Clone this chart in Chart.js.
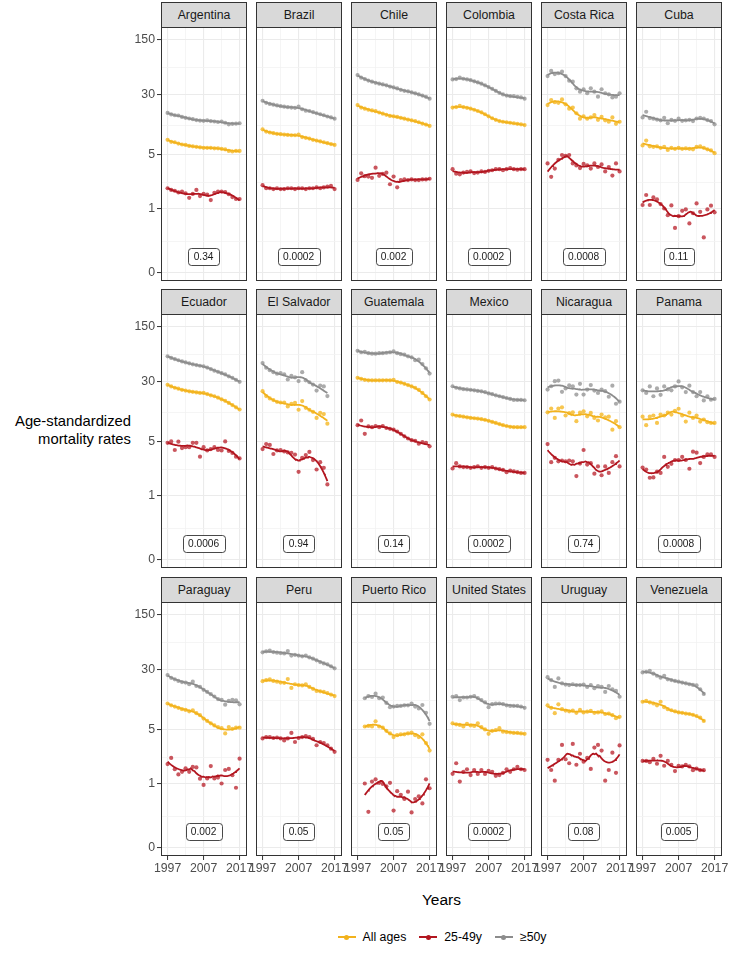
<!DOCTYPE html>
<html>
<head>
<meta charset="utf-8">
<script src="https://cdn.jsdelivr.net/npm/chart.js@4.4.1/dist/chart.umd.min.js"></script>
<style>
  body { margin: 0; background: #fff; }
  #fig { position: relative; width: 729px; height: 954px; overflow: hidden;
         font-family: "Liberation Sans", Arial, Helvetica, sans-serif; }
  .strip { position: absolute; box-sizing: border-box; border: 1px solid #333; border-bottom: none;
           background: #D9D9D9; color: #1A1A1A; font-size: 12.3px; text-align: center; line-height: 24px; }
  canvas { position: absolute; }
  #ytitle { position: absolute; left: 0; width: 131px; top: 412px; text-align: right;
            font-size: 14.8px; line-height: 18px; color: #000; }
  #xtitle { position: absolute; left: 161px; width: 561px; top: 891px; text-align: center;
            font-size: 15.5px; line-height: 18px; color: #000; }
  #legend { position: absolute; left: 161px; width: 561px; top: 928px; height: 18px;
            display: flex; justify-content: center; align-items: center; font-size: 12.3px; color: #000; }
  .item { display: flex; align-items: center; margin: 0 6px; }
  .key { position: relative; width: 20px; height: 18px; margin-right: 6px; }
  .key .ln { position: absolute; left: 1px; right: 1px; top: 8px; height: 2px; }
  .key .pt { position: absolute; left: 7.5px; top: 6.5px; width: 5px; height: 5px; border-radius: 50%; }
</style>
</head>
<body>
<div id="fig">
  <div id="ytitle">Age-standardized<br>mortality rates</div>
  <div id="xtitle">Years</div>
  <div id="legend"></div>
</div>
<script>
// ---- data ----
const COUNTRIES = ['Argentina', 'Brazil', 'Chile', 'Colombia', 'Costa Rica', 'Cuba',
                   'Ecuador', 'El Salvador', 'Guatemala', 'Mexico', 'Nicaragua', 'Panama',
                   'Paraguay', 'Peru', 'Puerto Rico', 'United States', 'Uruguay', 'Venezuela'];
const P_VALUES = ['0.34', '0.0002', '0.002', '0.0002', '0.0008', '0.11',
                  '0.0006', '0.94', '0.14', '0.0002', '0.74', '0.0008',
                  '0.002', '0.05', '0.05', '0.0002', '0.08', '0.005'];
const SERIES = ['All ages', '25-49y', '\u226550y'];

const YEARS = [1997, 1998, 1999, 2000, 2001, 2002, 2003, 2004, 2005, 2006, 2007,
               2008, 2009, 2010, 2011, 2012, 2013, 2014, 2015, 2016, 2017];
const YEARS_TO_2015 = [1997, 1998, 1999, 2000, 2001, 2002, 2003, 2004, 2005, 2006,
                       2007, 2008, 2009, 2010, 2011, 2012, 2013, 2014, 2015];
const YEARS_FROM_1999 = [1999, 2000, 2001, 2002, 2003, 2004, 2005, 2006, 2007, 2008,
                         2009, 2010, 2011, 2012, 2013, 2014, 2015, 2016, 2017];
const YEARS_TO_2014 = [1997, 1998, 1999, 2000, 2001, 2002, 2003, 2004, 2005, 2006,
                       2007, 2008, 2009, 2010, 2011, 2012, 2013, 2014];

const Y_TICKS = [0, 1, 5, 30, 150];
const X_TICKS = [1997, 2007, 2017];

const argentinaAll = [8.1, 7.6, 7.5, 7.2, 7.0, 6.9, 6.7, 6.6, 6.5, 6.4, 6.3, 6.3, 6.3, 6.2, 6.2, 6.1, 6.0, 5.7, 5.6, 5.7, 5.7];
const argentina2549 = [2.05, 1.95, 1.9, 1.8, 1.85, 1.75, 1.51, 1.72, 1.95, 1.6, 1.72, 1.68, 1.4, 1.78, 1.85, 1.85, 1.82, 1.7, 1.55, 1.45, 1.45];
const argentina50 = [18, 17.2, 16.8, 16.7, 16, 15.6, 15.3, 15, 14.6, 14.4, 14.3, 14.5, 14.2, 14, 13.8, 14, 13.5, 12.9, 13.1, 13.2, 13.3];

const brazilAll = [11.1, 10.4, 10.1, 9.9, 9.7, 9.6, 9.5, 9.4, 9.3, 9.3, 9.5, 8.8, 8.6, 8.4, 8.1, 7.9, 7.7, 7.5, 7.3, 7.1, 6.9];
const brazil2549 = [2.25, 2.05, 2.05, 2.0, 2.05, 2.0, 2.0, 2.05, 2.05, 2.0, 2.05, 2.05, 2.0, 2.05, 2.05, 2.1, 2.05, 2.1, 2.15, 2.2, 2.0];
const brazil50 = [25.5, 24, 23.3, 22.8, 22.3, 21.8, 21.5, 21.2, 21.0, 20.8, 21.5, 20.0, 19.2, 19.0, 18.4, 17.8, 17.3, 16.8, 16.2, 15.8, 15.2];

const chileAll = [22.5, 21, 20.3, 19.7, 19.3, 18.9, 18.2, 17.6, 17.0, 16.5, 16.3, 16, 15.6, 15.2, 14.8, 14.5, 14.2, 13.7, 13.2, 12.8, 12.3];
const chile2549 = [2.61, 3.13, 2.9, 2.87, 2.77, 3.64, 2.93, 3.08, 3.19, 2.31, 2.87, 2.11, 2.6, 2.65, 2.6, 2.65, 2.6, 2.6, 2.65, 2.65, 2.7];
const chile50 = [54, 50, 48, 46, 44.5, 43, 42, 41, 40, 38.5, 37.5, 36.5, 35, 34, 33.5, 32.5, 31.5, 30.5, 29.5, 28.5, 27];

const colombiaAll = [21, 21.3, 22, 21.3, 20.8, 20.3, 19.7, 19, 18.3, 17.3, 16.3, 15.4, 14.7, 14.2, 13.9, 13.7, 13.5, 13.3, 13.1, 12.9, 12.6];
const colombia2549 = [3.5, 3.1, 3.05, 3.2, 3.25, 3.3, 3.15, 3.2, 3.3, 3.25, 3.35, 3.4, 3.5, 3.5, 3.4, 3.5, 3.6, 3.5, 3.45, 3.5, 3.5];
const colombia50 = [47.5, 48, 50, 48.5, 47.5, 46.5, 45, 43.5, 42, 40, 38, 36, 34, 32, 30.5, 29.5, 29, 29, 28.5, 28, 27];

const costaRicaAll = [22.5, 26, 24.5, 24, 26.5, 23, 20.3, 21, 17.8, 15.2, 16.3, 15.2, 15.8, 16.9, 14.7, 16, 14.5, 13.9, 15.8, 13.1, 13.9];
const costaRica2549 = [4.05, 2.85, 3.55, 4.45, 5.0, 4.9, 5.0, 4.05, 3.85, 3.6, 4.0, 3.85, 3.55, 4.05, 3.7, 3.95, 3.3, 3.7, 2.95, 4.05, 3.3];
const costaRica50 = [52.5, 61, 55.7, 57, 59.6, 52.5, 45.8, 44.5, 36.6, 33.1, 35.6, 31.6, 36.6, 33.1, 28.6, 35.6, 31.6, 30.6, 28, 28.6, 31.6];

const cubaAll = [6.8, 7.9, 6.6, 6.5, 6.6, 6.3, 6.5, 5.9, 6.3, 6.1, 6.3, 6.1, 6.2, 6.1, 6.0, 6.5, 6.6, 6.3, 6.0, 5.8, 5.3];
const cuba2549 = [1.17, 1.66, 1.17, 1.53, 1.43, 1.21, 1.02, 0.87, 1.15, 0.63, 0.85, 0.96, 0.99, 0.71, 0.91, 1.24, 0.94, 0.47, 0.99, 1.14, 0.93];
const cuba50 = [15.8, 18.6, 15.5, 15.2, 14.8, 14.5, 15.6, 13.3, 14.7, 14.3, 15.2, 14.3, 14.5, 14.7, 14.2, 15.3, 15.6, 15.3, 14.6, 14.2, 12.9];

const ecuadorAll = [27.7, 26.5, 25.5, 24.8, 24, 23.5, 23, 22.7, 22.3, 22, 22, 21.3, 20.5, 20, 19.2, 18.3, 17.5, 16.5, 15.5, 14.5, 13.6];
const ecuador2549 = [4.9, 5.1, 4.1, 5.05, 4.3, 4.4, 4.4, 4.9, 4.9, 3.45, 4.4, 4.05, 4.2, 4.4, 4.1, 4.05, 5.1, 4.0, 3.8, 3.45, 3.3];
const ecuador50 = [64, 61, 59, 57, 55, 53.5, 52, 50.5, 49.5, 48.5, 47.7, 46, 44, 42, 40.5, 39, 37.5, 35.5, 34, 32, 30.2];

const elSalvadorAll = [23.1, 20.1, 18.8, 17.9, 17.0, 16.7, 16.7, 14.9, 16.0, 16.5, 13.5, 17.4, 14.3, 13.5, 12.7, 10.6, 12.3, 11.9, 8.9];
const elSalvador2549 = [4.2, 4.75, 4.65, 3.7, 4.05, 4.1, 3.95, 3.85, 3.82, 3.65, 2.27, 3.35, 3.6, 3.9, 3.15, 2.43, 2.98, 2.55, 1.53];
const elSalvador50 = [52.5, 45.7, 42.6, 40.1, 38.4, 39.1, 37.7, 32.3, 36.0, 34.5, 30.8, 40.1, 31.5, 29.8, 27.9, 23.5, 27.1, 26.5, 20.1];

const guatemalaAll = [34, 33, 32, 31.5, 31.5, 31.5, 31.5, 31.5, 31.5, 31.5, 32, 30, 29.5, 28.5, 27.5, 26.5, 25.5, 24, 22, 20, 18.2];
const guatemala2549 = [8.5, 9.8, 6.5, 8.2, 8.0, 8.3, 8.0, 8.3, 7.8, 7.6, 7.4, 7.0, 6.5, 6.0, 5.6, 5.3, 5.2, 4.8, 5.0, 4.9, 4.5];
const guatemala50 = [75, 72, 73, 70, 69, 69, 70, 70, 71, 72, 74, 70, 68, 67, 64, 62, 57, 58, 51, 45, 38.5];

const mexicoAll = [11.7, 11.3, 11.2, 11, 10.8, 10.6, 10.5, 10.4, 10.2, 10, 9.7, 9.4, 9.1, 8.8, 8.5, 8.3, 8.1, 8.0, 8.0, 8.0, 8.0];
const mexico2549 = [2.5, 2.9, 2.65, 2.6, 2.6, 2.55, 2.6, 2.65, 2.55, 2.6, 2.55, 2.6, 2.5, 2.45, 2.4, 2.25, 2.35, 2.3, 2.25, 2.2, 2.2];
const mexico50 = [26.6, 25.5, 25, 24.5, 24.3, 24, 23.7, 23.3, 23, 22.5, 21.7, 21.2, 20.5, 20, 19.5, 19, 18.5, 18, 18, 18, 17.8];

const nicaraguaAll = [12.5, 14, 10.6, 14, 14.5, 11.4, 12.2, 12.5, 9.6, 12.4, 12.9, 11.1, 12.3, 10.6, 9.8, 11.7, 10.8, 11.0, 7.4, 9.6, 8.0];
const nicaragua2549 = [4.75, 2.98, 3.35, 3.05, 3.12, 3.05, 3.12, 3.05, 2.0, 2.87, 4.1, 2.79, 2.9, 2.15, 2.65, 2.05, 2.65, 2.2, 2.98, 3.5, 2.65];
const nicaragua50 = [24.2, 26.6, 30.7, 31.3, 22.7, 25, 27.2, 26.6, 21, 28.5, 21, 24.2, 27.5, 23.5, 22, 24.2, 23.1, 19.7, 27, 16.1, 17.1];

const panamaAll = [11, 8.5, 11, 11.4, 9.1, 11.7, 11.4, 12.4, 11.7, 13.1, 13.9, 11.4, 9.5, 12.4, 10.6, 11.4, 9.5, 10.1, 9.3, 9.1, 9.1];
const panama2549 = [2.57, 2.43, 1.9, 1.92, 2.28, 2.2, 3.43, 2.62, 2.85, 3.16, 3.16, 3.43, 3.16, 2.48, 3.93, 3.83, 2.91, 3.43, 3.66, 3.66, 3.43];
const panama50 = [23.7, 22, 26.5, 20, 25, 20.8, 26.5, 24.3, 23.7, 26.5, 30.5, 25.8, 22.5, 27, 22.5, 20, 22.5, 17.7, 20, 18.1, 18.5];

const paraguayAll = [11.4, 10.8, 10.4, 10.0, 9.6, 9.4, 9.0, 9.3, 8.5, 8.0, 7.2, 6.7, 6.2, 5.8, 5.5, 5.3, 4.6, 5.5, 5.2, 5.4, 5.4];
const paraguay2549 = [2.0, 2.4, 1.7, 1.43, 1.56, 1.75, 1.56, 1.83, 1.8, 1.23, 0.98, 1.24, 1.88, 1.24, 1.28, 1.02, 1.66, 1.72, 1.39, 0.92, 2.35];
const paraguay50 = [26, 24, 23, 22, 21.3, 21, 20, 21.5, 19, 18.5, 17, 16, 15, 14, 13, 12.7, 11, 12.3, 12.7, 12.5, 11.1];

const peruAll = [21.8, 22.5, 23, 22, 21.5, 21, 20.8, 23.2, 18, 20, 19.5, 19.3, 20, 18.5, 17.5, 16.5, 16.3, 16, 15.5, 14.8, 14.2];
const peru2549 = [4.05, 4.2, 4.2, 4.1, 4.15, 4.05, 3.85, 4.05, 4.65, 3.7, 4.1, 4.2, 4.3, 4.2, 4.0, 3.4, 3.7, 3.6, 3.4, 3.1, 2.85];
const peru50 = [50.5, 52, 53, 51, 50, 49.5, 49, 52.5, 46, 47, 46, 45, 46, 43.5, 42, 40, 38, 36.5, 35.5, 33.5, 31.5];

const puertoRicoAll = [5.6, 5.7, 5.6, 6.6, 5.6, 5.4, 4.9, 4.6, 4.2, 4.4, 4.5, 4.5, 4.6, 4.7, 4.4, 4.2, 4.5, 3.6, 2.95];
const puertoRico2549 = [1.02, 0.48, 1.1, 1.2, 1.05, 1.0, 0.95, 1.05, 0.5, 0.85, 0.78, 0.7, 0.84, 0.47, 0.7, 0.75, 0.62, 1.2, 0.91];
const puertoRico50 = [13.3, 14.2, 13.8, 15.2, 13.3, 13.6, 11.6, 10.2, 10.4, 10.6, 10.6, 10.8, 10.8, 11.4, 10.4, 9.8, 10.9, 8.6, 6.1];

const usAll = [6.2, 6.0, 5.9, 5.6, 6.1, 5.8, 5.7, 6.2, 5.5, 5.1, 4.55, 4.9, 5.0, 5.3, 4.8, 4.75, 4.7, 4.65, 4.65, 4.6, 4.55];
const us2549 = [1.46, 2.05, 1.1, 1.56, 1.7, 1.4, 1.66, 1.45, 1.66, 1.45, 1.61, 1.56, 1.36, 1.4, 1.51, 1.7, 1.56, 1.7, 1.83, 1.7, 1.66];
const us50 = [13.9, 14.2, 12.6, 13.6, 13.6, 13.9, 14.2, 13.4, 12.6, 11.8, 10.2, 11.2, 11.4, 11.4, 11.2, 10.8, 10.6, 10.6, 10.6, 10.4, 10.0];

const uruguayAll = [10.8, 10, 8.5, 11.1, 9.6, 9.2, 9.0, 9.2, 8.6, 9.4, 8.7, 8.9, 9.1, 8.6, 8.7, 9.0, 8.3, 8.4, 8.0, 7.3, 7.6];
const uruguay2549 = [2.27, 1.66, 1.14, 2.27, 3.43, 2.31, 2.05, 3.52, 1.96, 2.7, 2.15, 2.4, 1.72, 3.2, 3.43, 2.95, 1.14, 1.66, 2.78, 1.51, 3.38];
const uruguay50 = [24.5, 22.5, 18.5, 23.6, 20.5, 19.8, 19.5, 20, 19.5, 19.5, 19.8, 18.5, 19.5, 17.8, 19, 18.5, 16, 19, 17.3, 16.5, 13.9];

const venezuelaAll = [12, 12.3, 11.8, 11.4, 10.8, 12, 10.2, 9.6, 9.3, 9.0, 8.7, 8.6, 8.4, 8.3, 8.1, 7.8, 7.4, 6.7];
const venezuela2549 = [2.2, 2.2, 2.12, 2.33, 2.02, 2.55, 1.9, 2.2, 1.95, 1.6, 1.9, 1.86, 1.95, 1.86, 1.65, 1.73, 1.65, 1.65];
const venezuela50 = [28, 28.5, 29.3, 27, 25.5, 24.1, 25.5, 23, 22.5, 22, 21.5, 21, 20.5, 20, 19.6, 19.3, 17.3, 15.1];

const PANEL_DATA = [
  [YEARS, argentinaAll, argentina2549, argentina50],
  [YEARS, brazilAll, brazil2549, brazil50],
  [YEARS, chileAll, chile2549, chile50],
  [YEARS, colombiaAll, colombia2549, colombia50],
  [YEARS, costaRicaAll, costaRica2549, costaRica50],
  [YEARS, cubaAll, cuba2549, cuba50],
  [YEARS, ecuadorAll, ecuador2549, ecuador50],
  [YEARS_TO_2015, elSalvadorAll, elSalvador2549, elSalvador50],
  [YEARS, guatemalaAll, guatemala2549, guatemala50],
  [YEARS, mexicoAll, mexico2549, mexico50],
  [YEARS, nicaraguaAll, nicaragua2549, nicaragua50],
  [YEARS, panamaAll, panama2549, panama50],
  [YEARS, paraguayAll, paraguay2549, paraguay50],
  [YEARS, peruAll, peru2549, peru50],
  [YEARS_FROM_1999, puertoRicoAll, puertoRico2549, puertoRico50],
  [YEARS, usAll, us2549, us50],
  [YEARS, uruguayAll, uruguay2549, uruguay50],
  [YEARS_TO_2014, venezuelaAll, venezuela2549, venezuela50]
];

// ---- look ----
const FONT = '"Liberation Sans", Arial, Helvetica, sans-serif';
const LINE_COLORS = ['#F2B21C', '#B2151F', '#8C8C8C'];
const POINT_COLORS = ['rgba(245,184,36,0.8)', 'rgba(184,30,40,0.75)', 'rgba(150,150,150,0.8)'];
const GRID_MAJOR = '#EBEBEB';
const GRID_MINOR = '#F3F3F3';
const SPAN = 0.6;

// axis transform: the breaks sit at these heights (axis units), log(1+y) in between
const BREAK_POS = [0, 64, 118, 178, 233];
function toAxis(v) {
  const L = Math.log1p(v);
  const Ls = Y_TICKS.map(t => Math.log1p(t));
  let i = 0;
  while (i < Ls.length - 2 && L > Ls[i + 1]) i++;
  return BREAK_POS[i] + (L - Ls[i]) / (Ls[i + 1] - Ls[i]) * (BREAK_POS[i + 1] - BREAK_POS[i]);
}

// local quadratic loess, like geom_smooth
function loess(xs, ys, span) {
  const n = xs.length;
  const q = Math.min(n, Math.max(4, Math.floor(span * n)));
  const out = [];
  const steps = 80;
  for (let k = 0; k <= steps; k++) {
    const x0 = xs[0] + (xs[n - 1] - xs[0]) * k / steps;
    const d = xs.map(x => Math.abs(x - x0));
    const h = [...d].sort((a, b) => a - b)[q - 1] * 1.0001 + 1e-9;
    let s0 = 0, s1 = 0, s2 = 0, s3 = 0, s4 = 0, t0 = 0, t1 = 0, t2 = 0;
    for (let i = 0; i < n; i++) {
      const r = d[i] / h;
      if (r >= 1) continue;
      const w = Math.pow(1 - r * r * r, 3);
      const u = xs[i] - x0, y = ys[i];
      s0 += w; s1 += w * u; s2 += w * u * u; s3 += w * u * u * u; s4 += w * u * u * u * u;
      t0 += w * y; t1 += w * u * y; t2 += w * u * u * y;
    }
    const det = s0 * (s2 * s4 - s3 * s3) - s1 * (s1 * s4 - s3 * s2) + s2 * (s1 * s3 - s2 * s2);
    const b0 = (t0 * (s2 * s4 - s3 * s3) - s1 * (t1 * s4 - s3 * t2) + s2 * (t1 * s3 - s2 * t2)) / det;
    out.push({ x: x0, y: b0 });
  }
  return out;
}

const COL_LEFT = [161, 256, 351, 446, 541, 636];
const STRIP_TOP = [2, 289, 577];
const PANEL_W = 86, PANEL_H = 254, STRIP_H = 25;

const panelDecor = {
  id: 'panelDecor',
  afterDatasetsDraw(chart, args, opts) {
    const { ctx, chartArea: a, scales } = chart;
    const x = scales.x.getPixelForValue(2007);
    const y = scales.y.getPixelForValue(toAxis(0.2));
    ctx.save();
    ctx.font = '10.2px ' + FONT;
    const w = Math.round(ctx.measureText(opts.text).width + 11), h = 17;
    const bx = Math.round(x - w / 2) + 0.5, by = Math.round(y - h / 2) + 0.5;
    ctx.beginPath();
    ctx.roundRect(bx, by, w, h, 3);
    ctx.fillStyle = '#fff';
    ctx.fill();
    ctx.strokeStyle = '#1A1A1A';
    ctx.lineWidth = 0.8;
    ctx.stroke();
    ctx.fillStyle = '#1A1A1A';
    ctx.textAlign = 'center';
    ctx.textBaseline = 'middle';
    ctx.fillText(opts.text, x, by + h / 2 + 0.5);
    ctx.strokeStyle = '#333';
    ctx.lineWidth = 1;
    ctx.strokeRect(a.left + 0.5, a.top + 0.5, a.width - 1, a.height - 1);
    ctx.restore();
  }
};

const fig = document.getElementById('fig');

COUNTRIES.forEach((name, idx) => {
  const r = Math.floor(idx / 6), c = idx % 6;
  const [years, ...series] = PANEL_DATA[idx];
  const panelTop = STRIP_TOP[r] + STRIP_H;

  const strip = document.createElement('div');
  strip.className = 'strip';
  strip.style.left = COL_LEFT[c] + 'px';
  strip.style.top = STRIP_TOP[r] + 'px';
  strip.style.width = PANEL_W + 'px';
  strip.style.height = STRIP_H + 'px';
  strip.textContent = name;
  fig.appendChild(strip);

  // generous margins so axis label overflow never squeezes the plot area
  const L = c === 0 ? 44 : 20, R = 20, T = 14, B = r === 2 ? 22 : 14;
  const cv = document.createElement('canvas');
  cv.width = L + PANEL_W + R;
  cv.height = T + PANEL_H + B;
  cv.style.left = (COL_LEFT[c] - L) + 'px';
  cv.style.top = (panelTop - T) + 'px';
  fig.appendChild(cv);

  const lines = series.map((vals, s) => ({
    data: loess(years, vals.map(toAxis), SPAN),
    showLine: true, borderColor: LINE_COLORS[s], borderWidth: 1.8,
    pointRadius: 0, tension: 0, fill: false
  }));
  const points = series.map((vals, s) => ({
    data: vals.map((v, i) => ({ x: years[i], y: toAxis(v) })),
    showLine: false, pointRadius: 2.1, borderWidth: 0,
    backgroundColor: POINT_COLORS[s], pointBackgroundColor: POINT_COLORS[s]
  }));

  const yTicks = [];
  BREAK_POS.forEach((p, i) => {
    yTicks.push({ value: p, lab: String(Y_TICKS[i]) });
    if (i < BREAK_POS.length - 1) yTicks.push({ value: (p + BREAK_POS[i + 1]) / 2, lab: '', minor: true });
  });
  const xTicks = [];
  X_TICKS.forEach((t, i) => {
    xTicks.push({ value: t, lab: String(t) });
    if (i < X_TICKS.length - 1) xTicks.push({ value: (t + X_TICKS[i + 1]) / 2, lab: '', minor: true });
  });

  const gridOpts = (show) => ({
    color: ctx => (ctx.tick && ctx.tick.minor) ? GRID_MINOR : GRID_MAJOR,
    lineWidth: ctx => (ctx.tick && ctx.tick.minor) ? 0.8 : 1.1,
    drawTicks: show,
    tickLength: 4,
    tickWidth: 1,
    tickColor: ctx => (ctx.tick && ctx.tick.minor) ? 'rgba(0,0,0,0)' : '#333'
  });

  new Chart(cv, {
    type: 'scatter',
    data: { datasets: [...lines, ...points] },
    options: {
      responsive: false,
      animation: false,
      events: [],
      layout: { padding: { left: c === 0 ? 0 : L, right: R, top: T, bottom: r === 2 ? 0 : B } },
      plugins: {
        legend: { display: false },
        tooltip: { enabled: false },
        panelDecor: { text: P_VALUES[idx] }
      },
      scales: {
        x: {
          type: 'linear', min: 1995.17, max: 2019.06,
          afterBuildTicks: s => { s.ticks = xTicks.map(t => ({ ...t })); },
          afterFit: s => { s.height = r === 2 ? B : 0; },
          ticks: {
            display: r === 2, autoSkip: false, maxRotation: 0, minRotation: 0, padding: 1,
            color: '#4D4D4D', font: { family: FONT, size: 12.3 },
            callback: (v, i, ticks) => ticks[i].lab
          },
          grid: gridOpts(r === 2),
          border: { display: false }
        },
        y: {
          type: 'linear', min: -8, max: 246,
          afterBuildTicks: s => { s.ticks = yTicks.map(t => ({ ...t })); },
          afterFit: s => { s.width = c === 0 ? L : 0; },
          ticks: {
            display: c === 0, autoSkip: false, padding: 2,
            color: '#4D4D4D', font: { family: FONT, size: 12.3 },
            callback: (v, i, ticks) => ticks[i].lab
          },
          grid: gridOpts(c === 0),
          border: { display: false }
        }
      }
    },
    plugins: [panelDecor]
  });
});

// legend
const legend = document.getElementById('legend');
SERIES.forEach((label, s) => {
  const item = document.createElement('div');
  item.className = 'item';
  item.innerHTML = '<div class="key"><div class="ln" style="background:' + LINE_COLORS[s] +
    '"></div><div class="pt" style="background:' + LINE_COLORS[s] + '"></div></div><span>' + label + '</span>';
  legend.appendChild(item);
});
</script>
</body>
</html>
